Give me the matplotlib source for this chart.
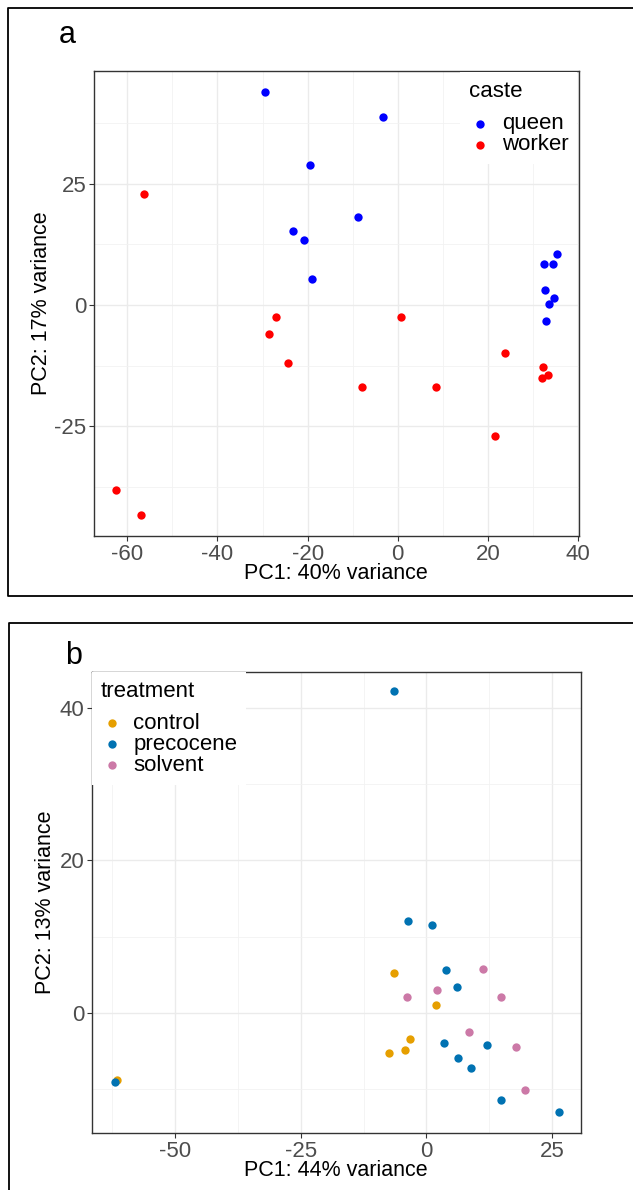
import matplotlib
matplotlib.use("Agg")
import matplotlib.pyplot as plt
from matplotlib.lines import Line2D

plt.rcParams['font.family'] = ['Liberation Sans', 'DejaVu Sans']
plt.rcParams['axes.unicode_minus'] = False

# panel a: PCA by caste
queen_pc1 = [-29.5, -3.2, -19.5, -8.8, -23.2, -20.9, -19.0,
             35.3, 32.5, 34.4, 32.6, 34.7, 33.6, 32.8]
queen_pc2 = [43.9, 38.8, 28.8, 18.1, 15.2, 13.3, 5.4,
             10.4, 8.5, 8.4, 3.0, 1.4, 0.1, -3.3]
worker_pc1 = [-56.4, -27.0, -28.6, -24.4, 0.7, -7.9, 8.4, 21.6,
              -62.5, -57.0, 23.8, 32.3, 33.4, 32.0]
worker_pc2 = [22.8, -2.5, -6.0, -12.0, -2.4, -17.0, -17.0, -26.9,
              -38.2, -43.3, -10.0, -12.7, -14.4, -15.0]

# panel b: PCA by treatment
control_pc1 = [-61.6, -6.4, 1.9, -3.2, -4.2, -7.5]
control_pc2 = [-8.9, 5.2, 1.0, -3.4, -4.9, -5.3]
precocene_pc1 = [-6.5, -3.7, 1.0, 3.8, 6.0, 3.5, 12.1, 6.3, 8.9, 14.9, 26.4, -62.0]
precocene_pc2 = [42.2, 12.1, 11.5, 5.65, 3.4, -4.0, -4.2, -6.0, -7.3, -11.5, -13.1, -9.15]
solvent_pc1 = [11.2, 2.0, -3.9, 14.9, 8.4, 17.7, 19.5]
solvent_pc2 = [5.8, 3.0, 2.0, 2.1, -2.5, -4.5, -10.1]

W, H = 633, 1190
fig = plt.figure(figsize=(W / 100, H / 100), dpi=100)


def px_axes(left, top, right, bottom):
    return fig.add_axes([left / W, (H - bottom) / H, (right - left) / W, (bottom - top) / H])


def style(ax):
    ax.set_facecolor('white')
    for s in ax.spines.values():
        s.set_color('#333333')
        s.set_linewidth(1.0)
    ax.grid(True, which='major', color='#EBEBEB', lw=1.0, zorder=0)
    ax.grid(True, which='minor', color='#F2F2F2', lw=0.6, zorder=0)
    ax.set_axisbelow(True)
    ax.tick_params(which='major', direction='out', length=3.5, width=0.8,
                   color='#333333', labelcolor='#4D4D4D', labelsize=16, pad=2)
    ax.tick_params(which='minor', length=0)


def make_legend(ax, title, anchor, textpad):
    leg = ax.legend(title=title, loc='upper left', bbox_to_anchor=anchor,
                    borderaxespad=0, fontsize=16, title_fontsize=16, frameon=True,
                    facecolor='white', edgecolor='none', framealpha=1, fancybox=False,
                    handlelength=1.0, handletextpad=textpad, labelspacing=0.0,
                    borderpad=0.4, scatterpoints=1)
    leg._legend_box.align = 'left'
    leg._legend_box.sep = 8
    return leg


ms = 36

# ---- panel a
axa = px_axes(94, 71, 579.3, 536)
axa.scatter(queen_pc1, queen_pc2, s=ms, color='#0000FF', label='queen', zorder=3, lw=0)
axa.scatter(worker_pc1, worker_pc2, s=ms, color='#FF0000', label='worker', zorder=3, lw=0)
axa.set_xlim(-67.4, 40.3)
axa.set_ylim(-47.6, 48.2)
axa.set_xticks([-60, -40, -20, 0, 20, 40])
axa.set_xticks([-50, -30, -10, 10, 30], minor=True)
axa.set_yticks([-25, 0, 25])
axa.set_yticks([-37.5, -12.5, 12.5, 37.5], minor=True)
style(axa)
make_legend(axa, 'caste', (0.7535, 0.997), 0.5)

fig.text(336 / W, (H - 574) / H, 'PC1: 40% variance', ha='center', va='center', fontsize=15.5)
fig.text(42 / W, (H - 303.5) / H, 'PC2: 17% variance', ha='center', va='center',
         rotation=90, fontsize=15.5)
fig.text(58.5 / W, (H - 43.3) / H, 'a', ha='left', va='baseline', fontsize=22)

# ---- panel b
axb = px_axes(92, 671.7, 581.4, 1133.3)
axb.scatter(control_pc1, control_pc2, s=ms, color='#E69F00', label='control', zorder=3, lw=0)
axb.scatter(precocene_pc1, precocene_pc2, s=ms, color='#0072B2', label='precocene', zorder=3, lw=0)
axb.scatter(solvent_pc1, solvent_pc2, s=ms, color='#CC79A7', label='solvent', zorder=3, lw=0)
axb.set_xlim(-66.5, 30.8)
axb.set_ylim(-15.85, 44.8)
axb.set_xticks([-50, -25, 0, 25])
axb.set_xticks([-62.5, -37.5, -12.5, 12.5], minor=True)
axb.set_yticks([0, 20, 40])
axb.set_yticks([-10, 10, 30], minor=True)
style(axb)
make_legend(axb, 'treatment', (0.0, 1.0), 0.45)

fig.text(336 / W, (H - 1170.7) / H, 'PC1: 44% variance', ha='center', va='center', fontsize=15.5)
fig.text(46 / W, (H - 902.5) / H, 'PC2: 13% variance', ha='center', va='center',
         rotation=90, fontsize=15.5)
fig.text(64.6 / W, (H - 664.3) / H, 'b', ha='left', va='baseline', fontsize=22)


# outer panel frames (running off the right / bottom edge)
def fline(xs, ys):
    fig.add_artist(Line2D([x / W for x in xs], [(H - y) / H for y in ys],
                          color='black', lw=1.3))


fline([640, 8, 8, 640], [7.5, 7.5, 596, 596])
fline([640, 9, 9], [622.7, 622.7, 1200])

fig.savefig('out.png', dpi=100)
